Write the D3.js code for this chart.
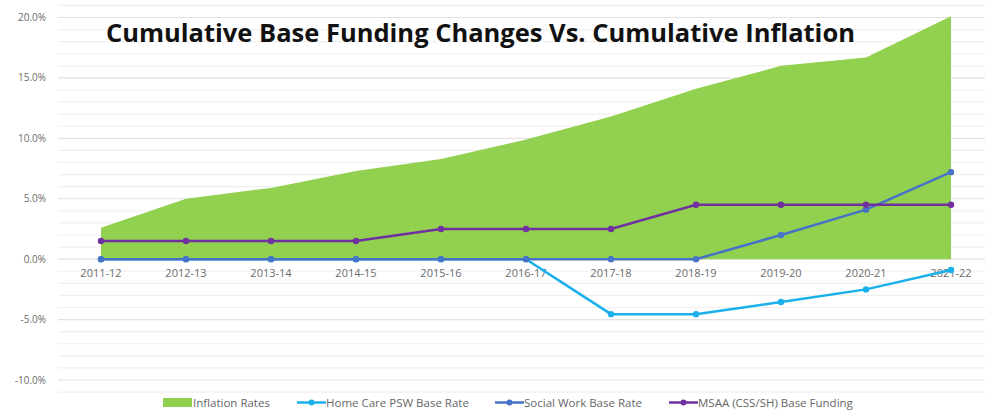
<!DOCTYPE html>
<html>
<head>
<meta charset="utf-8">
<script src="https://cdn.jsdelivr.net/npm/d3@7"></script>
<style>
  body { margin: 0; background: #fff; }
  svg { display: block; font-family: "Open Sans", "Noto Sans", sans-serif; }
</style>
</head>
<body>
<svg id="chart" width="985" height="410"></svg>
<script>
var svg = d3.select("#chart"),
  width = +svg.attr("width"),
  height = +svg.attr("height");

// Data
const years = ["2011-12", "2012-13", "2013-14", "2014-15", "2015-16", "2016-17",
  "2017-18", "2018-19", "2019-20", "2020-21", "2021-22"];
const inflationRates = [2.6, 5.0, 5.9, 7.3, 8.3, 9.9, 11.8, 14.1, 16.0, 16.7, 20.1];
const homeCarePsw = [0, 0, 0, 0, 0, 0, -4.55, -4.55, -3.55, -2.5, -0.9];
const socialWork = [0, 0, 0, 0, 0, 0, 0, 0, 2.0, 4.1, 7.2];
const msaaFunding = [1.5, 1.5, 1.5, 1.5, 2.5, 2.5, 2.5, 4.5, 4.5, 4.5, 4.5];
const yTicks = [-10, -5, 0, 5, 10, 15, 20];

const lineSeries = [
  { name: "Home Care PSW Base Rate", values: homeCarePsw, color: "#1ab0ec" },
  { name: "Social Work Base Rate", values: socialWork, color: "#4673c6" },
  { name: "MSAA (CSS/SH) Base Funding", values: msaaFunding, color: "#7030a0" }
];

// Scales
const x = d3.scalePoint()
  .domain(years)
  .range([101, 951]);

const y = d3.scaleLinear()
  .domain([-10, 20])
  .range([380, 17.5]);

// Gridlines every 1%, a bit darker every 5%
svg.append("g")
  .selectAll("line")
  .data(d3.range(-11, 22))
  .join("line")
  .attr("x1", 58)
  .attr("x2", width)
  .attr("y1", d => y(d))
  .attr("y2", d => y(d))
  .attr("stroke", d => d % 5 === 0 ? "#e2e2e2" : "#f0f0f0")
  .attr("stroke-width", 1.2);

// Y axis labels
svg.append("g")
  .selectAll("text")
  .data(yTicks)
  .join("text")
  .attr("x", 46)
  .attr("y", d => y(d) + 3.5)
  .attr("text-anchor", "end")
  .attr("font-size", 10)
  .attr("fill", "#6b6b6b")
  .text(d => d.toFixed(1) + "%");

// Inflation area
const area = d3.area()
  .x((d, i) => x(years[i]))
  .y0(y(0))
  .y1(d => y(d));

svg.append("path")
  .datum(inflationRates)
  .attr("d", area)
  .attr("fill", "#92d050");

// X axis labels
svg.append("g")
  .selectAll("text")
  .data(years)
  .join("text")
  .attr("x", d => x(d))
  .attr("y", 277)
  .attr("text-anchor", "middle")
  .attr("font-size", 11)
  .attr("fill", "#6b6b6b")
  .text(d => d);

// Lines with markers
const line = d3.line()
  .x((d, i) => x(years[i]))
  .y(d => y(d));

lineSeries.forEach(function (s) {
  svg.append("path")
    .datum(s.values)
    .attr("d", line)
    .attr("fill", "none")
    .attr("stroke", s.color)
    .attr("stroke-width", 2.5);

  svg.append("g")
    .selectAll("circle")
    .data(s.values)
    .join("circle")
    .attr("cx", (d, i) => x(years[i]))
    .attr("cy", d => y(d))
    .attr("r", 3.2)
    .attr("fill", s.color);
});

// Title
svg.append("text")
  .attr("x", 106)
  .attr("y", 42)
  .attr("font-size", 25.5)
  .attr("font-weight", "bold")
  .attr("fill", "#111")
  .text("Cumulative Base Funding Changes Vs. Cumulative Inflation");

// Legend
const legend = svg.append("g").attr("font-size", 11.5).attr("fill", "#666");
legend.append("rect")
  .attr("x", 163).attr("y", 398).attr("width", 29).attr("height", 9)
  .attr("fill", "#92d050");
legend.append("text").attr("x", 193).attr("y", 406.5).text("Inflation Rates");

const legendX = [297, 495, 669];
lineSeries.forEach(function (s, i) {
  const lx = legendX[i];
  legend.append("line")
    .attr("x1", lx).attr("x2", lx + 29)
    .attr("y1", 402.5).attr("y2", 402.5)
    .attr("stroke", s.color).attr("stroke-width", 2.5);
  legend.append("circle")
    .attr("cx", lx + 14.5).attr("cy", 402.5).attr("r", 3)
    .attr("fill", s.color);
  legend.append("text").attr("x", lx + 29).attr("y", 406.5).text(s.name);
});
</script>
</body>
</html>
